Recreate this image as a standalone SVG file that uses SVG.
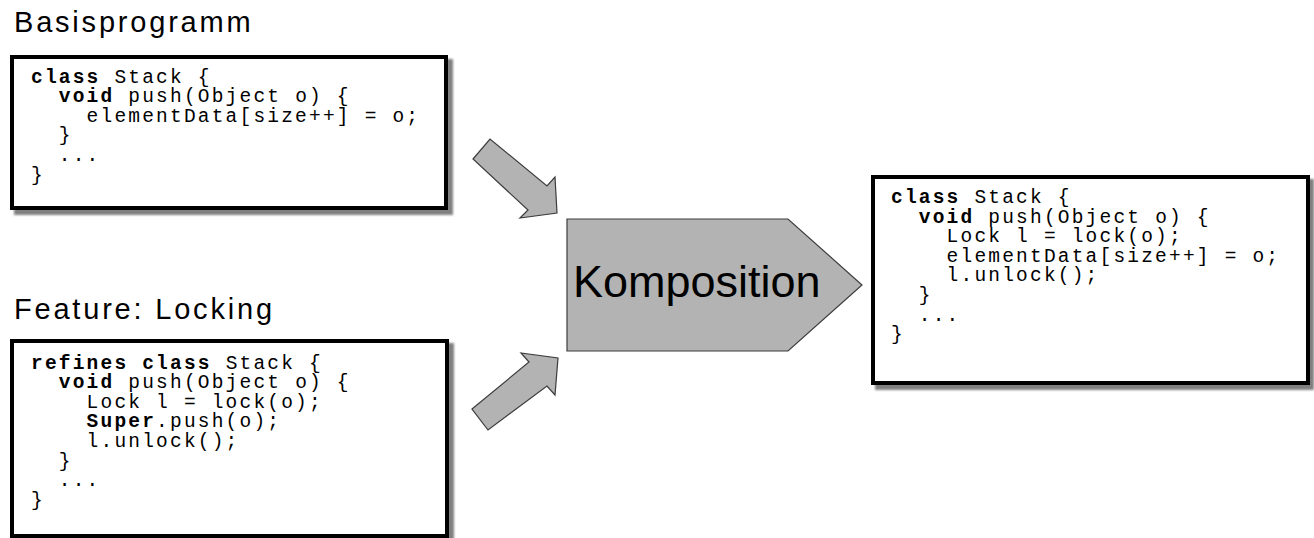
<svg xmlns="http://www.w3.org/2000/svg" width="1314" height="538" viewBox="0 0 1314 538">
  <style>
    .bg { fill: #ffffff; }
    .shadow { fill: #808080; }
    .box { fill: #ffffff; stroke: #000000; stroke-width: 4; }
    .title { font-family: "Liberation Sans", Arial, sans-serif; font-size: 29px; letter-spacing: 2.8px; fill: #000000; }
    .code { font-family: "Liberation Mono", "Courier New", monospace; font-size: 19.5px; letter-spacing: 2.2px; fill: #000000; }
    .kw { font-weight: bold; }
    .block { fill: #b3b3b3; stroke: #3c3c3c; stroke-width: 1.2; stroke-linejoin: miter; }
    .label { font-family: "Liberation Sans", Arial, sans-serif; font-size: 45px; fill: #000000; }
  </style>
  <defs>
    <filter id="soft" x="-5%" y="-5%" width="110%" height="110%">
      <feGaussianBlur stdDeviation="0.8"/>
    </filter>
  </defs>

  <rect class="bg" x="0" y="0" width="1314" height="538"/>

  <!-- base program -->
  <g id="node-base">
    <text class="title" x="14" y="32">Basisprogramm</text>
    <rect class="shadow" x="14" y="59" width="439" height="156" filter="url(#soft)"/>
    <rect class="box" x="12" y="57" width="434" height="151"/>
    <g class="code">
      <text x="31" y="82.5"><tspan class="kw">class</tspan> Stack {</text>
      <text x="58.8" y="102.1"><tspan class="kw">void</tspan> push(Object o) {</text>
      <text x="86.6" y="121.7">elementData[size++] = o;</text>
      <text x="58.8" y="141.3">}</text>
      <text x="58.8" y="160.9">...</text>
      <text x="31" y="180.5">}</text>
    </g>
  </g>

  <!-- locking feature -->
  <g id="node-feature">
    <text class="title" x="14" y="319">Feature: Locking</text>
    <rect class="shadow" x="14" y="343" width="440" height="200" filter="url(#soft)"/>
    <rect class="box" x="12" y="341" width="435" height="195"/>
    <g class="code">
      <text x="31" y="368.5"><tspan class="kw">refines class</tspan> Stack {</text>
      <text x="58.8" y="388.1"><tspan class="kw">void</tspan> push(Object o) {</text>
      <text x="86.6" y="407.7">Lock l = lock(o);</text>
      <text x="86.6" y="427.3"><tspan class="kw">Super</tspan>.push(o);</text>
      <text x="86.6" y="446.9">l.unlock();</text>
      <text x="58.8" y="466.5">}</text>
      <text x="58.8" y="486.1">...</text>
      <text x="31" y="505.7">}</text>
    </g>
  </g>

  <!-- composition step -->
  <g id="node-komposition">
    <polygon class="block" points="567,219 788,219 862,285 788,351 567,351"/>
    <text class="label" x="573" y="297">Komposition</text>
  </g>

  <!-- composed result -->
  <g id="node-result">
    <rect class="shadow" x="875" y="179" width="439" height="211" filter="url(#soft)"/>
    <rect class="box" x="873" y="177" width="435" height="206"/>
    <g class="code">
      <text x="891" y="203"><tspan class="kw">class</tspan> Stack {</text>
      <text x="918.8" y="222.6"><tspan class="kw">void</tspan> push(Object o) {</text>
      <text x="946.6" y="242.2">Lock l = lock(o);</text>
      <text x="946.6" y="261.8">elementData[size++] = o;</text>
      <text x="946.6" y="281.4">l.unlock();</text>
      <text x="918.8" y="301">}</text>
      <text x="918.8" y="320.6">...</text>
      <text x="891" y="340.2">}</text>
    </g>
  </g>

  <!-- block arrows feeding the composition -->
  <g id="connectors">
    <polygon class="block" points="473,159 490,139 547,186 555,177 557,213 520,218 528,210"/>
    <polygon class="block" points="472,409 529,362 521,353 558,358 555,395 547,386 488,430"/>
  </g>
</svg>
